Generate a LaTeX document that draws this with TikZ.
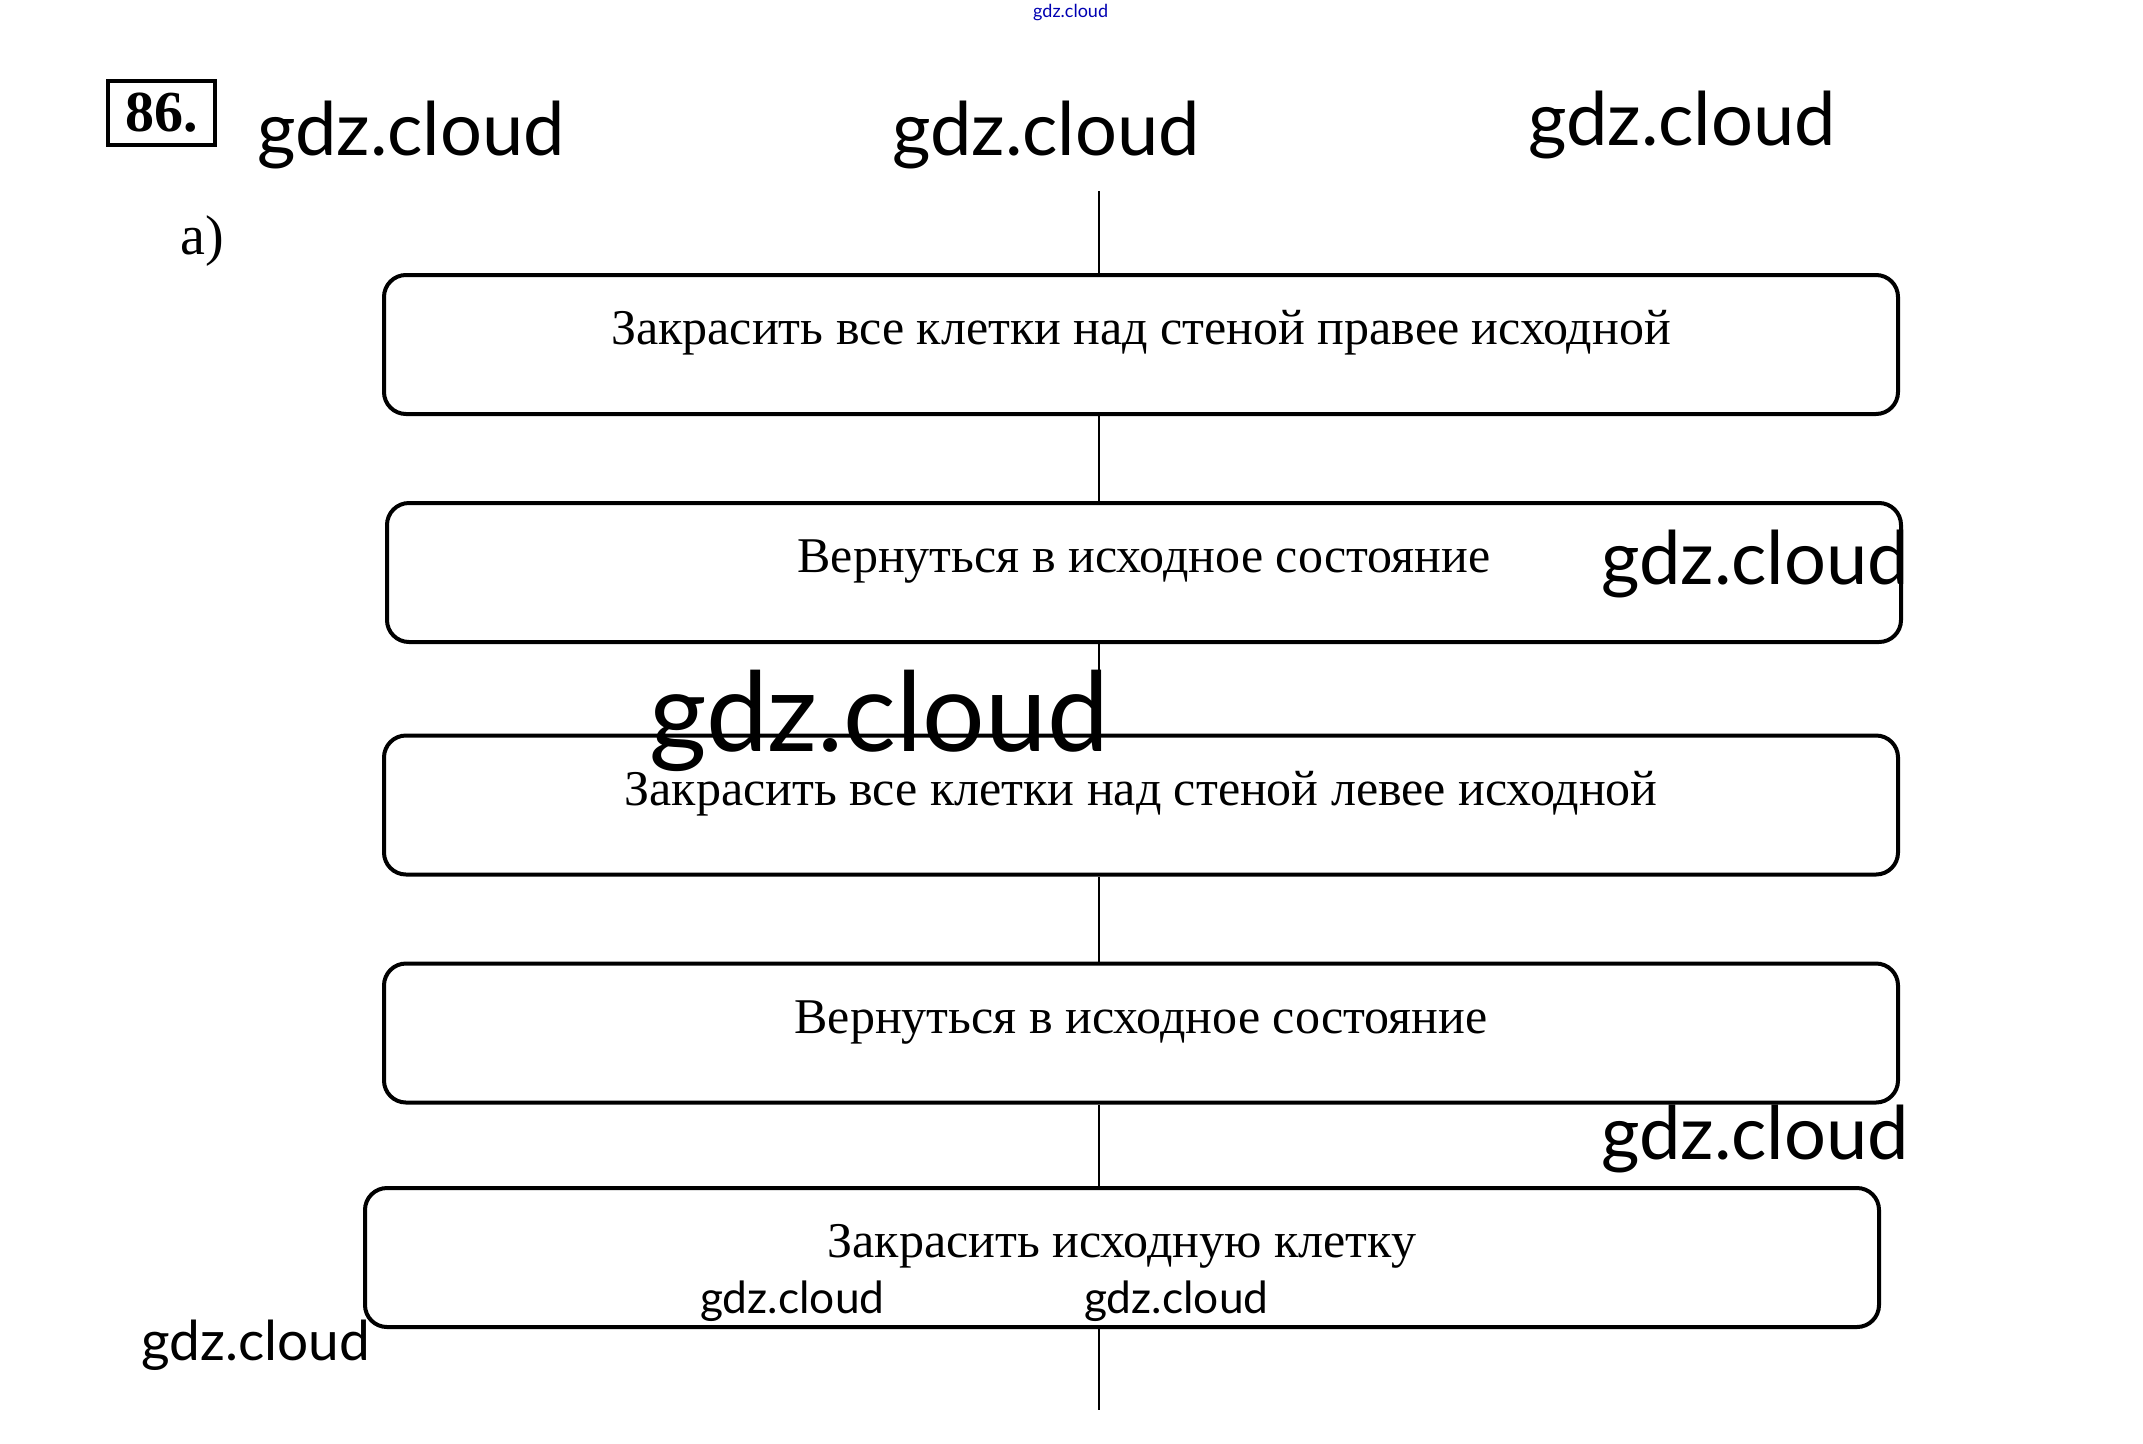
\documentclass[tikz,border=0pt]{standalone}
\usepackage{fontspec}
\setmainfont{Liberation Serif}
\newfontfamily\wmfont{Lato}
\tikzset{
  stepbox/.style={draw, line width=4pt, rounded corners=22pt, minimum width=1514pt, minimum height=139pt, inner sep=0pt, fill=white},
  boxtext/.style={anchor=base, inner sep=0pt, font=\fontsize{50}{60}\selectfont},
  flow/.style={line width=2.5pt},
  wm/.style={anchor=base west, inner sep=0pt, font=\wmfont\fontsize{#1}{#1}\selectfont},
}
\begin{document}
\begin{tikzpicture}[x=1pt,y=-1pt]
\useasboundingbox[fill=white] (0,0) rectangle (2143,1443);
% number
\node[draw, line width=3.5pt, minimum width=107pt, minimum height=64pt, inner sep=0pt,
      font=\bfseries\fontsize{58}{60}\selectfont] (num) at (161.5,113) {86.};
\node[anchor=base west, inner sep=0pt, font=\fontsize{56}{60}\selectfont] (parta) at (180,254) {a)};
% boxes
\node[stepbox] (b1) at (1141,344.5) {};
\node[stepbox] (b2) at (1144,572.5) {};
\node[stepbox] (b3) at (1141,805) {};
\node[stepbox] (b4) at (1141,1033) {};
\node[stepbox] (b5) at (1122,1257.5) {};
\node[boxtext] (t1) at (b1.center) {Закрасить все клетки над стеной правее исходной};
\node[boxtext] (t2) at (b2.center) {Вернуться в исходное состояние};
\node[boxtext] (t3) at (b3.center) {Закрасить все клетки над стеной левее исходной};
\node[boxtext] (t4) at (b4.center) {Вернуться в исходное состояние};
\node[boxtext] (t5) at (b5.center) {Закрасить исходную клетку};
% flow line
\coordinate (top) at (1099,191);
\coordinate (bot) at (1099,1410);
\draw[flow] (top) -- (top |- b1.north);
\draw[flow] (b1.south -| top) -- (b2.north -| top);
\draw[flow] (b2.south -| top) -- (b3.north -| top);
\draw[flow] (b3.south -| top) -- (b4.north -| top);
\draw[flow] (b4.south -| top) -- (b5.north -| top);
\draw[flow] (b5.south -| top) -- (bot);
% watermarks
\node[wm=74] (w1) at (257,155) {gdz.cloud};
\node[wm=74] (w2) at (892,155) {gdz.cloud};
\node[wm=74] (w3) at (1528,145) {gdz.cloud};
\node[wm=74] (w4) at (1601,584) {gdz.cloud};
\node[wm=110.5] (w5) at (649,751) {gdz.cloud};
\node[wm=74] (w6) at (1601,1159) {gdz.cloud};
\node[wm=44.3] (w7) at (700,1313) {gdz.cloud};
\node[wm=44.3] (w8) at (1084,1313) {gdz.cloud};
\node[wm=55] (w9) at (141,1360) {gdz.cloud};
\node[wm=18, text=blue!70!black] (w10) at (1033,17) {gdz.cloud};
\end{tikzpicture}
\end{document}
